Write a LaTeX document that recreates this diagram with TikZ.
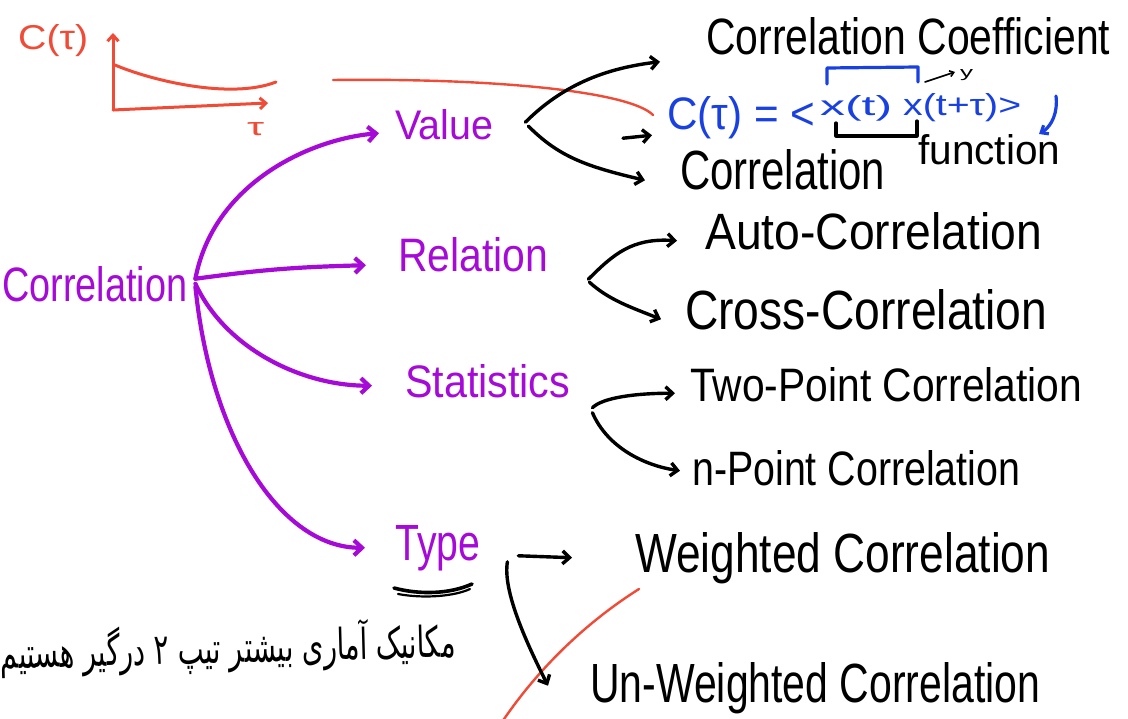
\documentclass[tikz,border=0pt]{standalone}
\usepackage{fontspec}
\usepackage{graphicx}
\setmainfont{Liberation Sans}
\newfontfamily\persfont[Script=Arabic]{DejaVu Sans}
\TeXXeTstate=1
\usetikzlibrary{arrows.meta,calc}
\definecolor{hpurple}{RGB}{165,10,215}
\definecolor{hblue}{RGB}{25,65,225}
\definecolor{hred}{RGB}{240,75,55}
\newcommand\hwtext[3]{\resizebox{#1pt}{#2pt}{#3}}
\tikzset{
  txt/.style={inner sep=0pt, anchor=base west},
  parrow/.style={draw=hpurple, line width=4.2pt, line cap=round, -{Straight Barb[length=8pt,width=15pt]}},
  barrow/.style={draw=black, line width=3.4pt, line cap=round, -{Straight Barb[length=7pt,width=13pt]}},
  rline/.style={draw=hred, line width=2.4pt, line cap=round},
  raxis/.style={rline, line width=3pt, -{Straight Barb[length=6pt,width=11pt]}},
  bline/.style={draw=hblue, line width=3.2pt, line cap=round, line join=round},
  kline/.style={draw=black, line width=3.2pt, line cap=round, line join=round}
}
\begin{document}
\begin{tikzpicture}[x=1pt,y=-1pt]
\useasboundingbox[fill=white] (0,0) rectangle (1128,719);

% ---- purple nodes
\node[txt,text=hpurple] (corr) at (2,302) {\hwtext{185}{35}{Correlation}};
\node[txt,text=hpurple] (val) at (395,140) {\hwtext{98}{30}{Value}};
\node[txt,text=hpurple] (rel) at (398,272) {\hwtext{150}{34}{Relation}};
\node[txt,text=hpurple] (stat) at (405,398) {\hwtext{165}{33}{Statistics}};
\node[txt,text=hpurple] (type) at (395,560) {\hwtext{85}{35}{Type}};

% ---- black leaves
\node[txt] (coef) at (706,55) {\hwtext{404}{37}{Correlation Coefficient}};
\node[txt] (cfun) at (680,190) {\hwtext{205}{40}{Correlation}};
\node[txt] (fun) at (918,165) {\hwtext{142}{30}{function}};
\node[txt] (auto) at (705,250) {\hwtext{337}{37}{Auto-Correlation}};
\node[txt] (cross) at (685,330) {\hwtext{362}{40}{Cross-Correlation}};
\node[txt] (two) at (690,402) {\hwtext{392}{34}{Two-Point Correlation}};
\node[txt] (npt) at (692,485) {\hwtext{328}{35}{n-Point Correlation}};
\node[txt] (wc) at (635,572) {\hwtext{415}{40}{Weighted Correlation}};
\node[txt] (uwc) at (590,702) {\hwtext{450}{40}{Un-Weighted Correlation}};

% ---- blue formula
\node[txt,text=hblue] (ceq) at (667,130) {\hwtext{148}{33}{C(τ) = <}};
\node[txt,text=hblue] (xt) at (820,116) {\hwtext{72}{20}{x(t)}};
\node[txt,text=hblue] (xtt) at (903,116) {\hwtext{118}{22}{x(t+τ)>}};
\node[txt] (ylab) at (960,78) {\hwtext{13}{8}{y}};

% ---- red sketch
\node[txt,text=hred] (ctau) at (18,50) {\hwtext{70}{25}{C(τ)}};
\node[txt,text=hred] (tau) at (247,136) {\hwtext{17}{13}{τ}};
\coordinate (org) at (113,110);
\draw[raxis] (org) -- (113,33);
\draw[raxis] (org) -- (268,103);
\draw[rline, line width=3pt] (115,65) .. controls (150,80) and (230,100) .. (276,82);
\draw[rline] (333,80) .. controls (500,78) and (630,92) .. (653,115);
\draw[rline] (639,589) .. controls (590,620) and (540,665) .. (500,725);

% ---- purple connectors
\coordinate (cf) at ($(corr.east)+(8,-6)$);
\draw[parrow] (cf) .. controls +(18,-95) and +(-70,6) .. ($(val.west)+(-16,8)$);
\draw[parrow] (cf) .. controls +(60,-8) and +(-80,2) .. ($(rel.west)+(-32,10)$);
\draw[parrow] ($(cf)+(0,5)$) .. controls +(30,65) and +(-70,0) .. ($(stat.west)+(-33,4)$);
\draw[parrow] ($(cf)+(0,8)$) .. controls +(15,150) and +(-85,0) .. ($(type.west)+(-30,0)$);

% ---- black connectors: Value
\coordinate (vf) at ($(val.east)+(32,-3)$);
\draw[barrow] (vf) .. controls +(40,-40) and +(-50,6) .. ($(coef.west)+(-46,25)$);
\draw[barrow] ($(vf)+(3,4)$) .. controls +(30,30) and +(-60,-14) .. ($(cfun.west)+(-35,10)$);
\coordinate (sa) at ($(ceq.west)+(-44,20)$);
\draw[barrow] (sa) -- ($(ceq.west)+(-15,17)$);

% ---- Relation
\coordinate (rf) at ($(rel.east)+(40,24)$);
\draw[barrow] (rf) .. controls +(25,-25) and +(-45,-3) .. ($(auto.west)+(-28,9)$);
\draw[barrow] ($(rf)+(1,3)$) .. controls +(20,18) and +(-30,-12) .. ($(cross.west)+(-24,9)$);

% ---- Statistics
\coordinate (sf) at ($(stat.east)+(22,26)$);
\draw[barrow] (sf) .. controls +(10,-10) and +(-40,0) .. ($(two.west)+(-15,8)$);
\draw[barrow] ($(sf)+(0,5)$) .. controls +(15,35) and +(-35,-5) .. ($(npt.west)+(-12,3)$);

% ---- Type
\coordinate (tf) at ($(type.east)+(38,8)$);
\draw[barrow] (tf) -- ($(wc.west)+(-63,0)$);
\coordinate (td) at ($(type.east)+(27,14)$);
\draw[barrow] (td) .. controls +(-5,30) and +(-20,-40) .. ($(uwc.west)+(-42,-2)$);
\draw[kline, line width=3.6pt] (394,588) .. controls (420,595) and (450,594) .. (472,584);
\draw[kline, line width=2.2pt] (398,594) .. controls (425,599) and (455,596) .. (470,589);

% ---- brackets and small marks around formula
\draw[bline] (827,84) -- (827,68) -- (918,67) -- (918,82);
\draw[kline] (836,123) -- (836,136) -- (917,136) -- (917,121);
\draw[kline, line width=1.6pt, -{Straight Barb[length=4pt,width=6pt]}] (925,82) -- (955,72);
\draw[bline, -{Straight Barb[length=6pt,width=10pt]}] (1056,96) .. controls (1058,112) and (1052,126) .. (1039,134);

% ---- Persian note
\node[text=black, rotate=1.5, inner sep=0pt] (pers) at (228,648) {\resizebox{455pt}{40pt}{\persfont\beginR مکانیک آماری بیشتر تیپ ۲ درگیر هستیم\endR}};
\end{tikzpicture}
\end{document}
